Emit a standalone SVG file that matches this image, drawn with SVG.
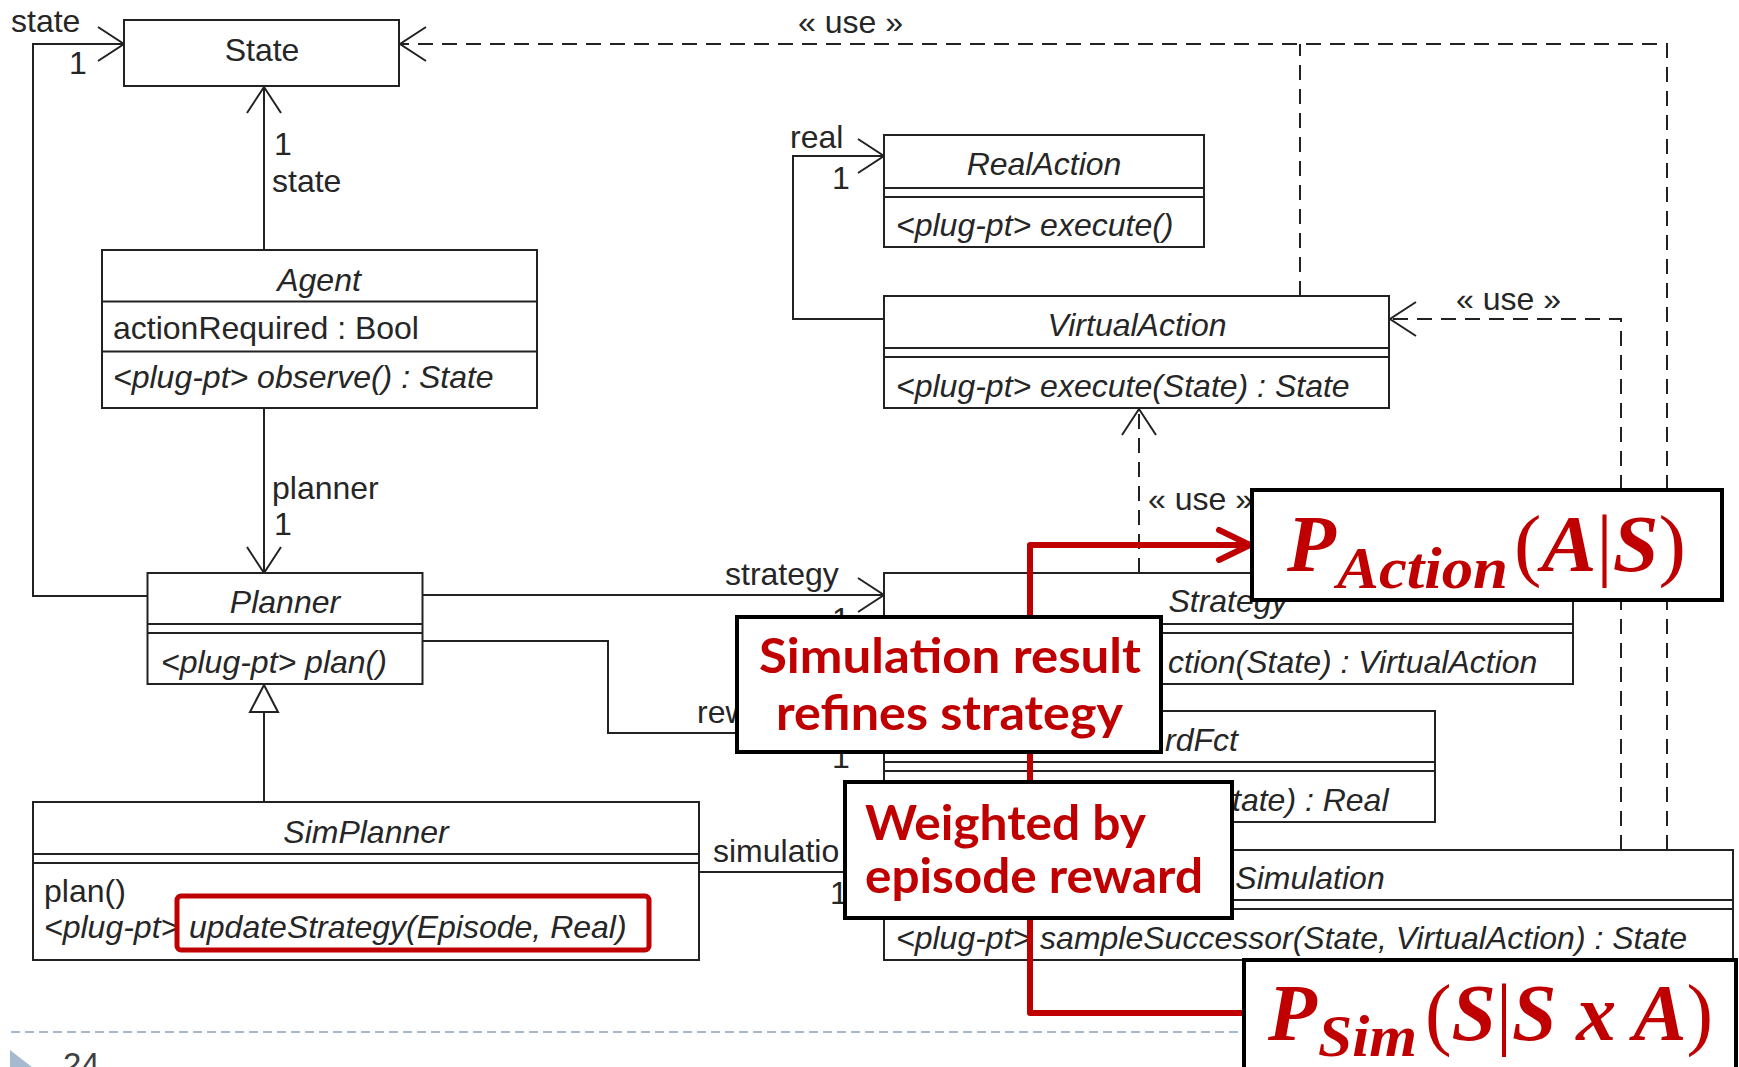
<svg xmlns="http://www.w3.org/2000/svg" width="1739" height="1067" viewBox="0 0 1739 1067">
  <style>
    .box { fill: #fff; stroke: #222; stroke-width: 2; }
    .div { stroke: #222; stroke-width: 2; }
    .ln { fill: none; stroke: #222; stroke-width: 2; }
    .dash { stroke-dasharray: 15 9; }
    .t { font-family: "Liberation Sans", Arial, sans-serif; font-size: 32px; fill: #262626; }
    .i { font-style: italic; }
    .mid { text-anchor: middle; }
    .callout { fill: #fff; stroke: #000; stroke-width: 4; }
    .note { font-family: Lato, "Open Sans", sans-serif; font-weight: bold; font-size: 48px; fill: #C00000; }
    .math { font-family: "Liberation Serif", "Times New Roman", serif; font-weight: bold; font-style: italic; fill: #C00000; }
    .up { font-style: normal; font-weight: normal; }
    .red { fill: none; stroke: #C00000; stroke-width: 6; stroke-linejoin: round; }
  </style>
  <defs>
    <marker id="open" markerUnits="userSpaceOnUse" markerWidth="32" markerHeight="40" refX="28" refY="20" orient="auto">
      <path d="M2,3 L28,20 L2,37" fill="none" stroke="#222" stroke-width="2"/>
    </marker>
    <marker id="openRed" markerUnits="userSpaceOnUse" markerWidth="40" markerHeight="40" refX="34" refY="20" orient="auto">
      <path d="M3,5 L34,20 L3,35" fill="none" stroke="#C00000" stroke-width="6" stroke-linecap="round" stroke-linejoin="round"/>
    </marker>
  </defs>

  <rect width="1739" height="1067" fill="#fff"/>

  <!-- slide footer -->
  <g id="footer">
    <line x1="11" y1="1032" x2="1244" y2="1032" stroke="#A5B8CC" stroke-width="2" stroke-dasharray="9 5"/>
    <polygon points="10,1050 37,1071 10,1092" fill="#A5B9CF"/>
    <text x="63" y="1076" font-family="Liberation Sans, Arial, sans-serif" font-size="33" fill="#404040">24</text>
  </g>

  <!-- associations, dependencies, generalization -->
  <g id="connectors">
    <!-- Planner.state -> State -->
    <polyline class="ln" points="147.5,596 33,596 33,44 124,44" marker-end="url(#open)"/>
    <!-- Agent.state -> State -->
    <line class="ln" x1="264" y1="250" x2="264" y2="87" marker-end="url(#open)"/>
    <!-- Agent.planner -> Planner -->
    <line class="ln" x1="264" y1="408" x2="264" y2="573" marker-end="url(#open)"/>
    <!-- SimPlanner generalizes Planner -->
    <line class="ln" x1="264" y1="802" x2="264" y2="712"/>
    <polygon points="264,685 250,712 278,712" fill="#fff" stroke="#222" stroke-width="2"/>
    <!-- Planner.strategy -> Strategy -->
    <line class="ln" x1="422.5" y1="595" x2="884" y2="595" marker-end="url(#open)"/>
    <!-- Planner.reward -> RewardFct -->
    <polyline class="ln" points="422.5,641 608,641 608,733 884,733" marker-end="url(#open)"/>
    <!-- SimPlanner.simulation -> Simulation -->
    <line class="ln" x1="699" y1="872" x2="884" y2="872" marker-end="url(#open)"/>
    <!-- VirtualAction.real -> RealAction -->
    <polyline class="ln" points="884,319 793,319 793,156 884,156" marker-end="url(#open)"/>
    <!-- use dependencies -->
    <polyline class="ln dash" points="1300,296 1300,44"/>
    <polyline class="ln dash" points="1667,850 1667,44 400,44" marker-end="url(#open)"/>
    <polyline class="ln dash" points="1621,850 1621,319 1390,319" marker-end="url(#open)"/>
    <line class="ln dash" x1="1139" y1="573" x2="1139" y2="409" marker-end="url(#open)"/>

    <!-- role names and multiplicities -->
    <text class="t" x="11" y="32">state</text>
    <text class="t" x="69" y="74">1</text>
    <text class="t" x="274" y="155">1</text>
    <text class="t" x="272" y="192">state</text>
    <text class="t" x="272" y="499">planner</text>
    <text class="t" x="274" y="535">1</text>
    <text class="t" x="725" y="585">strategy</text>
    <text class="t" x="832" y="630">1</text>
    <text class="t" x="697" y="723">rew</text>
    <text class="t" x="832" y="768">1</text>
    <text class="t" x="713" y="862">simulatio</text>
    <text class="t" x="830" y="904">1</text>
    <text class="t" x="790" y="148">real</text>
    <text class="t" x="832" y="189">1</text>
    <text class="t" x="798" y="33">« use »</text>
    <text class="t" x="1456" y="310">« use »</text>
    <text class="t" x="1148" y="510">« use »</text>
  </g>

  <g id="State">
    <rect class="box" x="124" y="20" width="275" height="66"/>
    <text class="t mid" x="262" y="61">State</text>
  </g>

  <g id="Agent">
    <rect class="box" x="102" y="250" width="435" height="158"/>
    <line class="div" x1="102" y1="301.5" x2="537" y2="301.5"/>
    <line class="div" x1="102" y1="351.5" x2="537" y2="351.5"/>
    <text class="t i mid" x="319" y="291">Agent</text>
    <text class="t" x="113" y="339">actionRequired : Bool</text>
    <text class="t i" x="113" y="388">&lt;plug-pt&gt; observe() : State</text>
  </g>

  <g id="Planner">
    <rect class="box" x="147.5" y="573" width="275" height="111"/>
    <line class="div" x1="147.5" y1="624" x2="422.5" y2="624"/>
    <line class="div" x1="147.5" y1="633" x2="422.5" y2="633"/>
    <text class="t i mid" x="285" y="613">Planner</text>
    <text class="t i" x="161" y="673">&lt;plug-pt&gt; plan()</text>
  </g>

  <g id="SimPlanner">
    <rect class="box" x="33" y="802" width="666" height="158"/>
    <line class="div" x1="33" y1="854" x2="699" y2="854"/>
    <line class="div" x1="33" y1="863" x2="699" y2="863"/>
    <text class="t i mid" x="366" y="843">SimPlanner</text>
    <text class="t" x="44" y="902">plan()</text>
    <text class="t i" x="44" y="938">&lt;plug-pt&gt;</text>
    <text class="t i" x="189" y="938">updateStrategy(Episode, Real)</text>
    <rect x="177" y="896" width="472" height="54" rx="4" fill="none" stroke="#C00000" stroke-width="5"/>
  </g>

  <g id="RealAction">
    <rect class="box" x="884" y="135" width="320" height="112"/>
    <line class="div" x1="884" y1="188" x2="1204" y2="188"/>
    <line class="div" x1="884" y1="197" x2="1204" y2="197"/>
    <text class="t i mid" x="1044" y="175">RealAction</text>
    <text class="t i" x="896" y="236">&lt;plug-pt&gt; execute()</text>
  </g>

  <g id="VirtualAction">
    <rect class="box" x="884" y="296" width="505" height="112"/>
    <line class="div" x1="884" y1="348" x2="1389" y2="348"/>
    <line class="div" x1="884" y1="357" x2="1389" y2="357"/>
    <text class="t i mid" x="1137" y="336">VirtualAction</text>
    <text class="t i" x="896" y="397">&lt;plug-pt&gt; execute(State) : State</text>
  </g>

  <g id="Strategy">
    <rect class="box" x="884" y="573" width="689" height="111"/>
    <line class="div" x1="884" y1="624" x2="1573" y2="624"/>
    <line class="div" x1="884" y1="633" x2="1573" y2="633"/>
    <text class="t i mid" x="1228" y="612">Strategy</text>
    <text class="t i" x="1168" y="673">ction(State) : VirtualAction</text>
  </g>

  <g id="RewardFct">
    <rect class="box" x="884" y="711" width="551" height="111"/>
    <line class="div" x1="884" y1="762" x2="1435" y2="762"/>
    <line class="div" x1="884" y1="771" x2="1435" y2="771"/>
    <text class="t i" x="1165" y="751">rdFct</text>
    <text class="t i" x="1232" y="811">tate) : Real</text>
  </g>

  <g id="Simulation">
    <rect class="box" x="884" y="850" width="849" height="110"/>
    <line class="div" x1="884" y1="900" x2="1733" y2="900"/>
    <line class="div" x1="884" y1="909" x2="1733" y2="909"/>
    <text class="t i mid" x="1310" y="889">Simulation</text>
    <text class="t i" x="896" y="949">&lt;plug-pt&gt; sampleSuccessor(State, VirtualAction) : State</text>
  </g>

  <!-- red flow from the simulation distribution back to the action distribution -->
  <g id="flow">
    <polyline class="red" points="1244,1013 1030,1013 1030,545 1250,545" marker-end="url(#openRed)"/>
  </g>

  <g id="note-refines">
    <rect class="callout" x="737" y="617" width="424" height="135"/>
    <text class="note" x="759" y="673" textLength="382" lengthAdjust="spacingAndGlyphs">Simulation result</text>
    <text class="note" x="776" y="730" textLength="347" lengthAdjust="spacingAndGlyphs">refines strategy</text>
  </g>

  <g id="note-weighted">
    <rect class="callout" x="845" y="782" width="387" height="136"/>
    <text class="note" x="865" y="840" textLength="281" lengthAdjust="spacingAndGlyphs">Weighted by</text>
    <text class="note" x="865" y="893" textLength="338" lengthAdjust="spacingAndGlyphs">episode reward</text>
  </g>

  <g id="P-action">
    <rect class="callout" x="1252" y="490" width="470" height="110"/>
    <text class="math" x="1287" y="571" font-size="80">P</text>
    <text class="math" x="1337" y="588" font-size="60" textLength="171" lengthAdjust="spacingAndGlyphs">Action</text>
    <text class="math" x="1514" y="571" font-size="80" textLength="172" lengthAdjust="spacingAndGlyphs"><tspan class="up">(</tspan>A<tspan class="up">|</tspan>S<tspan class="up">)</tspan></text>
  </g>

  <g id="P-sim">
    <rect class="callout" x="1244" y="960" width="492" height="120"/>
    <text class="math" x="1268" y="1040" font-size="80">P</text>
    <text class="math" x="1318" y="1056" font-size="60" textLength="99" lengthAdjust="spacingAndGlyphs">Sim</text>
    <text class="math" x="1425" y="1040" font-size="80" textLength="288" lengthAdjust="spacingAndGlyphs"><tspan class="up">(</tspan>S<tspan class="up">|</tspan>S x A<tspan class="up">)</tspan></text>
  </g>
</svg>
